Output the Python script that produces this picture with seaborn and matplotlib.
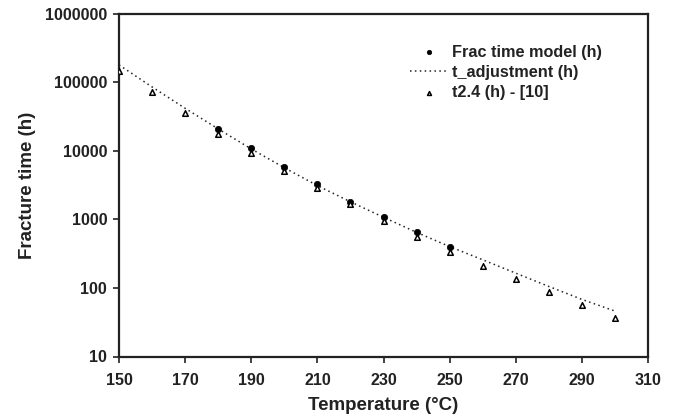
import matplotlib
matplotlib.use("Agg")
import matplotlib.pyplot as plt
import seaborn as sns
import numpy as np
import pandas as pd
from matplotlib.ticker import FuncFormatter, FixedLocator, NullLocator

# ---- data ----
temp_model = [180, 190, 200, 210, 220, 230, 240, 250]
frac_time_model = [20500, 10800, 5850, 3270, 1800, 1090, 660, 400]

temp_adj = [150, 160, 170, 180, 190, 200, 210, 220, 230, 240, 250, 260, 270, 280, 290, 300]
t_adjustment = [178000, 85000, 41500, 20800, 10600, 5650, 3100, 1800, 1070, 645, 400, 257, 164, 105, 68, 46]

temp_ref = [150, 160, 170, 180, 190, 200, 210, 220, 230, 240, 250, 260, 270, 280, 290, 300]
t24_ref = [145000, 71000, 35000, 17500, 9350, 5100, 2830, 1660, 945, 558, 337, 211, 133, 87, 56, 36]

x_ticks = [150, 170, 190, 210, 230, 250, 270, 290, 310]
y_ticks = [10, 100, 1000, 10000, 100000, 1000000]

sns.set_theme(style="white")
plt.rcParams['font.family'] = ['Liberation Sans', 'DejaVu Sans']
plt.rcParams['font.weight'] = 'bold'

fig = plt.figure(figsize=(6.73, 4.20), dpi=100)
ax = fig.add_axes([119/673, (420-356.5)/420, (648-119)/673, (356.5-13.5)/420])

df_adj = pd.DataFrame({"T": temp_adj, "t": t_adjustment})
df_model = pd.DataFrame({"T": temp_model, "t": frac_time_model})
df_ref = pd.DataFrame({"T": temp_ref, "t": t24_ref})

sns.lineplot(data=df_adj, x="T", y="t", ax=ax, color="#222222", linestyle=(0, (1, 2.2)),
             linewidth=1.1, label="t_adjustment (h)", legend=False)
sns.scatterplot(data=df_model, x="T", y="t", ax=ax, marker="o", s=21, color="black",
                edgecolor="black", linewidth=0.5, label="Frac time model (h)", legend=False, zorder=3)
sns.scatterplot(data=df_ref, x="T", y="t", ax=ax, marker="^", s=16, color="white",
                edgecolor="black", linewidth=1.1, label="t2.4 (h) - [10]", legend=False, zorder=4)

ax.set_yscale("log")
ax.set_xlim(150, 310)
ax.set_ylim(10, 1000000)
ax.xaxis.set_major_locator(FixedLocator(x_ticks))
ax.yaxis.set_major_locator(FixedLocator(y_ticks))
ax.yaxis.set_minor_locator(NullLocator())
ax.yaxis.set_major_formatter(FuncFormatter(lambda v, p: f"{int(round(v))}"))
ax.xaxis.set_major_formatter(FuncFormatter(lambda v, p: f"{int(round(v))}"))

for s in ax.spines.values():
    s.set_visible(True)
    s.set_color("#222222")
    s.set_linewidth(1.6)

ax.tick_params(axis="both", which="major", direction="out", length=4, width=1.2,
               color="#222222", labelsize=11.5, labelcolor="#222222")
ax.tick_params(axis="x", bottom=True, top=False, pad=8)
ax.tick_params(axis="y", left=True, right=False, pad=4.5)
for lab in ax.get_xticklabels() + ax.get_yticklabels():
    lab.set_fontweight("bold")

ax.set_xlabel("Temperature (°C)", fontsize=13.5, fontweight="bold", color="#222222", labelpad=6)
ax.set_ylabel("Fracture time (h)", fontsize=13.5, fontweight="bold", color="#222222", labelpad=6.5)
ax.grid(False)

h, l = ax.get_legend_handles_labels()
order = [l.index("Frac time model (h)"), l.index("t_adjustment (h)"), l.index("t2.4 (h) - [10]")]
leg = ax.legend([h[i] for i in order], [l[i] for i in order], loc="upper left",
                bbox_to_anchor=(0.5225, 0.952), frameon=False,
                handlelength=2.3, handletextpad=0.3, labelspacing=0.32, markerscale=0.7,
                prop={"weight": "bold", "size": 11.7})
for t in leg.get_texts():
    t.set_color("#222222")

fig.savefig("out.png", dpi=100)
